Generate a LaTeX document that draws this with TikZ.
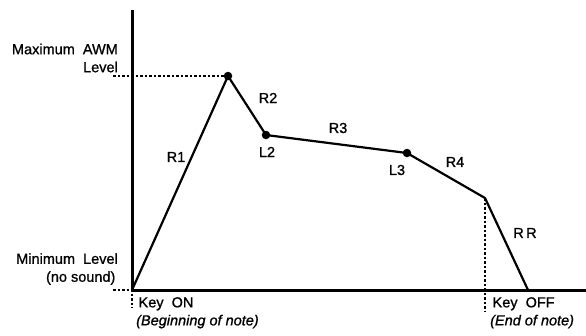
\documentclass[tikz,border=0pt]{standalone}
\usepackage{fontspec}
\setmainfont{Liberation Sans}
\newfontfamily\scanfont[FakeBold=1]{Liberation Sans}
\usetikzlibrary{positioning}

\begin{document}
\begin{tikzpicture}[
  x=1pt, y=-1pt,
  axis/.style={line width=3pt},
  curve/.style={line width=2.2pt, line join=round},
  guide/.style={line width=1.3pt, dash pattern=on 2.5pt off 2pt},
  dot/.style={circle, fill, inner sep=0pt, minimum size=8.5pt},
  lbl/.style={font=\scanfont\fontsize{14.5}{18}\selectfont, inner sep=0pt},
  side/.style={lbl, align=right, anchor=east}
]
\useasboundingbox (0,0) rectangle (586,335);
% points of the envelope
\coordinate (origin) at (132,290);
\coordinate (ytop) at (132,10);
\coordinate (xend) at (586,290);
\coordinate (peak) at (228,76);
\coordinate (ltwo) at (266,135);
\coordinate (lthree) at (407,153);
\coordinate (off) at (485,198);
\coordinate (release) at (528,290);
\coordinate (maxtick) at (113,76);
\coordinate (mintick) at (113,290);
\coordinate (ontick) at (132,308);
\coordinate (offtick) at (485,312);
% axes
\draw[axis] (ytop) -- (origin) -- (xend);
% guide lines
\draw[guide] (maxtick) -- (peak);
\draw[guide] (mintick) -- (origin) -- (ontick);
\draw[guide] (off) -- (offtick);
% envelope
\draw[curve] (origin) -- (peak) -- (ltwo) -- (lthree) -- (off) -- (release);
\node[dot] (peakdot) at (peak) {};
\node[dot] (ltwodot) at (ltwo) {};
\node[dot] (lthreedot) at (lthree) {};
% segment labels
\node[lbl] (rone) at (176,157) {R1};
\node[lbl] (rtwo) at (268,98) {R2};
\node[lbl] (ltwolbl) at (267,152) {L2};
\node[lbl] (rthree) at (338,128) {R3};
\node[lbl] (lthreelbl) at (397,170) {L3};
\node[lbl] (rfour) at (455,162) {R4};
\node[lbl] (rr) at (525,233) {R\,R};
% level labels
\node[side] (maxlbl) at (118,58) {Maximum\ \ AWM\\Level};
\node[side] (minlbl) at (118,269) {Minimum\ \ Level\\(no sound)\,};
% key labels
\node[lbl, align=left, anchor=north west] (keyon) at (136,297) {\,Key\ \ ON\\\itshape(Beginning of note)};
\node[lbl, align=left, anchor=north west] (keyoff) at (490,297) {\,Key\ \ OFF\\\itshape(End of note)};
\end{tikzpicture}
\end{document}
